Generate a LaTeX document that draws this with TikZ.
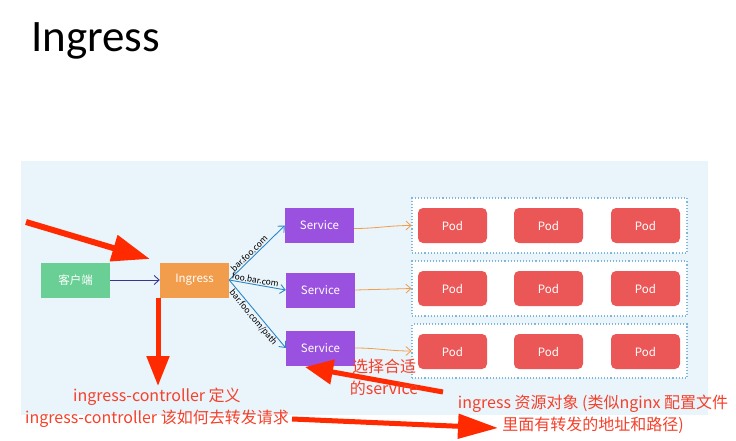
\documentclass[tikz,border=0pt]{standalone}
\usepackage{fontspec}
\setmainfont{Carlito}
\newfontfamily\cjk{Noto Sans CJK SC}
\usetikzlibrary{arrows.meta}
\definecolor{panelc}{HTML}{EAF4FB}
\definecolor{greenc}{HTML}{6ACF95}
\definecolor{orangec}{HTML}{F29D4B}
\definecolor{purplec}{HTML}{9B51E0}
\definecolor{podc}{HTML}{EB5757}
\definecolor{bluec}{HTML}{2C86C6}
\definecolor{darkc}{HTML}{3B3394}
\definecolor{groupc}{HTML}{7FB6DC}
\definecolor{redc}{HTML}{FF2A00}
\definecolor{redtc}{HTML}{F5402A}
\begin{document}
\begin{tikzpicture}[x=1pt,y=-1pt,
  box/.style={minimum width=69pt, minimum height=35pt, inner sep=0pt, text=white, font=\cjk\fontsize{11.5}{13}\selectfont},
  podbox/.style={box, fill=podc, rounded corners=5pt},
  groupbox/.style={draw=groupc, dotted, line width=1.1pt, fill=white, minimum width=275pt, inner sep=0pt},
  bluearr/.style={draw=bluec, line width=0.9pt, -{Straight Barb[length=5pt,width=9pt]}},
  orangearr/.style={draw=orangec, line width=0.8pt, -{Straight Barb[length=5pt,width=9pt]}},
  redarr/.style={draw=redc, line width=6pt, -{Triangle[length=38pt,width=26pt]}},
  lbl/.style={font=\cjk\fontsize{8.5}{9}\selectfont, inner sep=1pt, sloped},
  redtxt/.style={text=redtc, font=\cjk\fontsize{16}{22}\selectfont, align=center, inner sep=0pt}
]
\useasboundingbox (0,0) rectangle (736,441);
\fill[white] (0,0) rectangle (736,441);
\node[anchor=base west, inner sep=0pt, font=\fontsize{45}{50}\selectfont] (title) at (31,52) {Ingress};
\fill[panelc] (21,161) rectangle (708,415);

% groups
\node[groupbox, minimum height=55pt] (g1) at (549.5,225.5) {};
\node[groupbox, minimum height=55pt] (g2) at (549.5,288.5) {};
\node[groupbox, minimum height=54pt] (g3) at (549.5,351) {};

% pods
\foreach \r/\y in {1/225.5,2/288.5,3/351.5}{
  \node[podbox] (p\r a) at (452.5,\y) {Pod};
  \node[podbox] (p\r b) at (548.5,\y) {Pod};
  \node[podbox] (p\r c) at (645.5,\y) {Pod};
}

% main nodes
\node[box, fill=greenc] (client) at (75.5,280) {客户端};
\node[box, fill=orangec] (ing) at (194.5,280) {Ingress};
\node[box, fill=purplec] (s1) at (319.5,225.5) {Service};
\node[box, fill=purplec] (s2) at (320.5,290) {Service};
\node[box, fill=purplec] (s3) at (320.5,348) {Service};

% connectors
\draw[darkc, line width=0.9pt, -{Straight Barb[length=5pt,width=9pt]}] (client) -- (ing);
\draw[bluearr] (ing.east) -- node[lbl, above, pos=0.42] {bar.foo.com} (s1.west);
\draw[bluearr] (ing.east) -- node[lbl, above, pos=0.45] {foo.bar.com} (s2.west);
\draw[bluearr] (ing.east) -- node[lbl, below, pos=0.5] {bar.foo.com/path} (s3.west);

\draw[orangearr] ([yshift=-3pt]s1.east) to[out=0,in=180] (g1.west);
\draw[orangearr] (s2.east) -- (g2.west);
\draw[orangearr] (s3.east) to[out=0,in=180] (g3.west);

% red annotation arrows
\coordinate (r1a) at (26,222);
\coordinate (r1b) at (150,259);
\coordinate (r2a) at (158,298);
\coordinate (r2b) at (158,386);
\coordinate (r3a) at (443,392);
\coordinate (r3b) at (305,367);
\coordinate (r4a) at (292,419);
\coordinate (r4b) at (498,428);
\draw[redarr] (r1a) -- (r1b);
\draw[redarr, line width=5pt, -{Triangle[length=30pt,width=22pt]}] (r2a) -- (r2b);
\draw[redarr, line width=5pt, -{Triangle[length=28pt,width=24pt]}] (r3a) -- (r3b);
\draw[redarr, line width=5pt, -{Triangle[length=40pt,width=24pt]}] (r4a) -- (r4b);

% red texts
\node[redtxt] (t1) at (157,408) {ingress-controller 定义\\ingress-controller 该如何去转发请求};
\node[redtxt] (t2) at (384,377) {选择合适\\的service};
\node[redtxt] (t3) at (593,414) {ingress 资源对象 (类似nginx 配置文件\\里面有转发的地址和路径)};
\end{tikzpicture}
\end{document}
